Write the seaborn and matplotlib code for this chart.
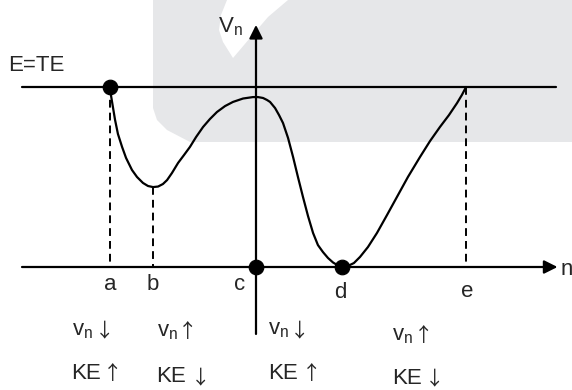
import matplotlib
matplotlib.use("Agg")
import matplotlib.pyplot as plt
from matplotlib.patches import Polygon
import seaborn as sns

# ---------------- data ----------------
E_level = 10.0                      # total energy line
curve_n = [-8.11, -8.06, -7.94, -7.83, -7.67, -7.44, -7.22, -6.89, -6.61, -6.28,
           -6.0, -5.72, -5.44, -5.17, -4.94, -4.67, -4.33, -4.0, -3.67, -3.33,
           -2.94, -2.56, -2.17, -1.72, -1.28, -0.72, -0.17, 0.11, 0.39, 0.61,
           0.78, 1.06, 1.28, 1.5, 1.78, 2.06, 2.33, 2.61, 2.89, 3.17,
           3.44, 3.72, 4.0, 4.28, 4.56, 4.78, 5.11, 5.44, 5.78, 6.22,
           6.72, 7.28, 7.83, 8.44, 9.11, 9.67, 10.22, 10.72, 11.17, 11.44,
           11.67]
curve_V = [10.0, 9.56, 8.83, 8.17, 7.39, 6.67, 6.06, 5.39, 5.0, 4.67,
           4.5, 4.44, 4.47, 4.61, 4.83, 5.22, 5.78, 6.22, 6.67, 7.22,
           7.78, 8.22, 8.61, 8.94, 9.17, 9.36, 9.44, 9.44, 9.39, 9.28,
           9.17, 8.83, 8.44, 8.0, 7.17, 6.11, 5.0, 3.89, 2.83, 1.89,
           1.22, 0.83, 0.5, 0.25, 0.08, 0.0, 0.06, 0.22, 0.56, 1.11,
           1.89, 2.89, 3.89, 5.0, 6.11, 7.0, 7.78, 8.44, 9.11, 9.56,
           10.0]
point_names = ["a", "b", "c", "d", "e"]
point_n = [-8.11, -5.72, 0.0, 4.78, 11.67]
dash_top = [10.0, 4.44, None, None, 10.0]     # dashed drop lines
dot_names = ["a", "c", "d"]
dot_V = [10.0, 0.0, 0.0]
label_n = [-8.11, -5.72, -0.9, 4.67, 11.72]
label_V = [-1.28, -1.28, -1.28, -1.72, -1.67]

vn_texts = [r"$\mathregular{v_n}$"] * 4
vn_arrows = ["↓", "↑", "↓", "↑"]
ke_texts = ["KE"] * 4
ke_arrows = ["↑", "↓", "↑", "↓"]
vn_n = [-10.22, -5.5, 0.67, 7.56]
vn_V = [-3.78, -3.83, -3.72, -4.06]
vn_arrow_n = [-8.44, -3.78, 2.44, 9.33]
vn_arrow_V = [-3.83, -3.89, -3.83, -4.11]
ke_n = [-10.28, -5.56, 0.67, 7.56]
ke_V = [-6.22, -6.39, -6.22, -6.48]
ke_arrow_n = [-7.98, -3.06, 3.11, 9.94]
ke_arrow_V = [-6.22, -6.44, -6.22, -6.5]

n_axis_range = (-13.0, 16.75)
V_axis_range = (-3.72, 13.45)

# ---------------- figure ----------------
sns.set_theme(style="white")
plt.rcParams["font.family"] = ["Liberation Sans", "DejaVu Sans"]
plt.rcParams["mathtext.fontset"] = "custom"

fig = plt.figure(figsize=(5.72, 3.90), dpi=100)
W, H = 572.0, 390.0

def fpx(pts):
    return [(x / W, 1 - y / H) for x, y in pts]

# background watermark of the source image
fig.patches.append(Polygon(fpx([(153, 0), (153, 108), (157, 120), (167, 130),
                                (190, 142), (572, 142), (572, 0)]),
                           closed=True, transform=fig.transFigure,
                           facecolor="#e6e7e9", edgecolor="none", zorder=-5))
fig.patches.append(Polygon(fpx([(227, 0), (221, 15), (219, 30), (223, 42),
                                (233, 58), (250, 38), (268, 17), (288, 0)]),
                           closed=True, transform=fig.transFigure,
                           facecolor="white", edgecolor="none", zorder=-4))

ax = fig.add_axes([0, 0, 1, 1])
ax.patch.set_alpha(0)
ax.set_xlim(-256 / 18, 316 / 18)
ax.set_ylim((267 - 390) / 18, 267 / 18)
ax.axis("off")

lw = 1.6
# total energy line
ax.plot([n_axis_range[0], 16.67], [E_level, E_level], color="black", lw=lw)
# n axis with arrow
ax.annotate("", xy=(n_axis_range[1], 0), xytext=(n_axis_range[0], 0),
            arrowprops=dict(arrowstyle="-|>", lw=lw, color="black",
                            mutation_scale=20, shrinkA=0, shrinkB=0))
# V axis with arrow
ax.annotate("", xy=(0, V_axis_range[1]), xytext=(0, V_axis_range[0]),
            arrowprops=dict(arrowstyle="-|>", lw=lw, color="black",
                            mutation_scale=20, shrinkA=0, shrinkB=0))

# potential curve
sns.lineplot(x=curve_n, y=curve_V, sort=False, color="black", lw=1.6,
             ax=ax, estimator=None)

# dashed drop lines
for n, top in zip(point_n, dash_top):
    if top is not None:
        ax.plot([n, n], [top, 0], color="black", lw=1.4, ls=(0, (4, 2.6)))

# dots
name_to_n = dict(zip(point_names, point_n))
sns.scatterplot(x=[name_to_n[k] for k in dot_names], y=dot_V, s=110,
                color="black", edgecolor="black", zorder=5, ax=ax)

fs = 16
for name, n, v in zip(point_names, label_n, label_V):
    ax.text(n, v, name, ha="center", va="baseline", fontsize=fs)

ax.text(-13.75, 10.89, "E=TE", ha="left", va="baseline", fontsize=fs)
ax.text(-2.11, 13.06, r"$\mathregular{V_n}$", ha="left", va="baseline", fontsize=fs)
ax.text(16.94, -0.44, "n", ha="left", va="baseline", fontsize=fs)

arrow_font = ["Noto Sans CJK JP", "DejaVu Sans"]
for t, n, v in zip(vn_texts, vn_n, vn_V):
    ax.text(n, v, t, ha="left", va="baseline", fontsize=fs)
for t, n, v in zip(vn_arrows, vn_arrow_n, vn_arrow_V):
    ax.text(n, v, t, ha="center", va="baseline", fontsize=14, family=arrow_font)
for t, n, v in zip(ke_texts, ke_n, ke_V):
    ax.text(n, v, t, ha="left", va="baseline", fontsize=fs)
for t, n, v in zip(ke_arrows, ke_arrow_n, ke_arrow_V):
    ax.text(n, v, t, ha="center", va="baseline", fontsize=14, family=arrow_font)

fig.savefig("out.png", dpi=100)
